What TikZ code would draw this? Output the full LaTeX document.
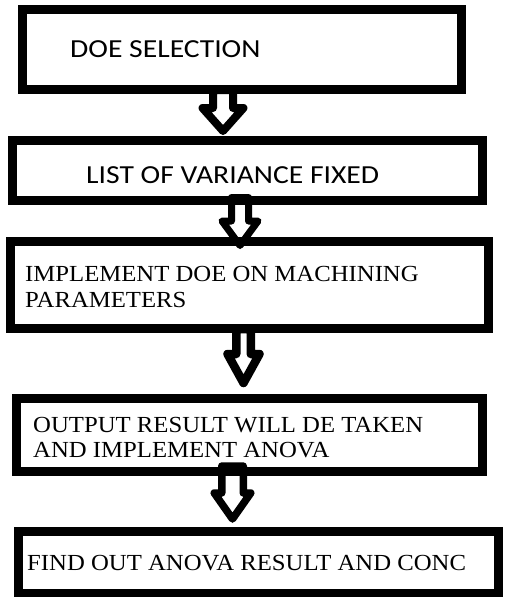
\documentclass[tikz,border=0pt]{standalone}
\usepackage{fontspec}
\setmainfont{Liberation Serif}
\newfontfamily\calibrifont{Carlito}
\newcommand\blkarr[7]{% cx, top, neck, tip, shaft half width, head half width, line width
  \draw[line width=#7, line join=round]
    (#1-#5,#2) -- (#1-#5,#3) -- (#1-#6,#3) -- (#1,#4) -- (#1+#6,#3) -- (#1+#5,#3) -- (#1+#5,#2) -- cycle;}
\begin{document}
\begin{tikzpicture}[x=1pt,y=-1pt,
  box/.style={draw, line width=9pt, inner sep=0pt, rectangle},
  sanslbl/.style={anchor=base west, inner sep=0pt, font=\calibrifont\fontsize{26}{30}\selectfont, xscale=1.14},
  seriflbl/.style={anchor=base west, inner sep=0pt, align=left, font=\fontsize{23}{26}\selectfont, xscale=1.075}]
\useasboundingbox (0,0) rectangle (512,597);
% boxes
\node[box, minimum width=439pt, minimum height=80pt] (b1) at (241.5,49.5) {};
\node[box, minimum width=470.5pt, minimum height=60.5pt] (b2) at (247.25,170.25) {};
\node[box, minimum width=478pt, minimum height=87pt] (b3) at (249.5,285) {};
\node[box, minimum width=466pt, minimum height=72.5pt] (b4) at (249.5,434.75) {};
\node[box, minimum width=480pt, minimum height=62pt] (b5) at (258,562.5) {};
% texts (multi-line nodes: base anchor is on the last line)
\node[sanslbl] (t1) at (70,57) {DOE SELECTION};
\node[sanslbl] (t2) at (86,183) {LIST OF VARIANCE FIXED};
\node[seriflbl] (t3) at (25,307) {IMPLEMENT DOE ON MACHINING\\PARAMETERS};
\node[seriflbl, font=\fontsize{23}{24.6}\selectfont] (t4) at (33,457) {OUTPUT RESULT WILL DE TAKEN\\AND IMPLEMENT ANOVA};
\node[seriflbl] (t5) at (27,570) {FIND OUT ANOVA RESULT AND CONC};
% block arrows
\blkarr{223}{90}{108}{131}{10}{20.5}{8pt}
\blkarr{240}{197.5}{221}{245.5}{8.5}{18}{7pt}
\blkarr{243.5}{329}{354}{383}{7.25}{16}{8.5pt}
\blkarr{232.5}{466}{493}{519}{10.75}{18.25}{7.5pt}
\end{tikzpicture}
\end{document}
